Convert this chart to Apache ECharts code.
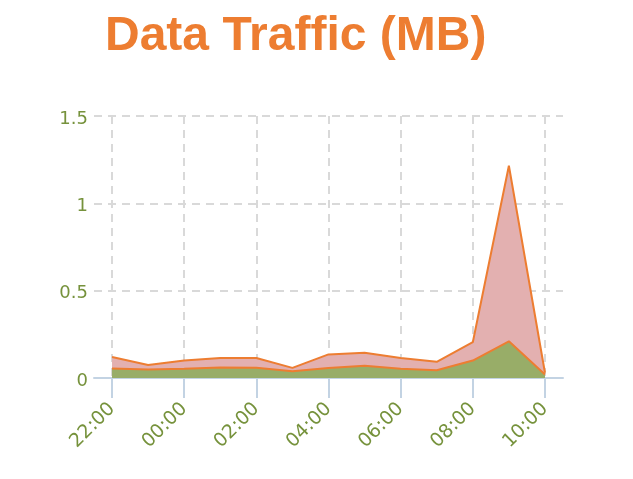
<!DOCTYPE html>
<html>
<head>
<meta charset="utf-8">
<script src="https://cdn.jsdelivr.net/npm/echarts@6/dist/echarts.min.js"></script>
<style>html,body{margin:0;padding:0;background:#fff}#c{width:633px;height:479px}</style>
</head>
<body>
<div id="c"></div>
<script>
const categories = ['22:00','23:00','00:00','01:00','02:00','03:00','04:00','05:00','06:00','07:00','08:00','09:00','10:00'];
const totalTraffic = [0.12, 0.075, 0.10, 0.115, 0.115, 0.058, 0.135, 0.145, 0.115, 0.093, 0.205, 1.215, 0.03];
const greenTraffic = [0.055, 0.048, 0.053, 0.06, 0.058, 0.038, 0.057, 0.07, 0.053, 0.044, 0.10, 0.21, 0.02];
const yTicks = [0, 0.5, 1, 1.5];

const chart = echarts.init(document.getElementById('c'), null, {renderer: 'canvas'});
const labelColor = '#76923c';
chart.setOption({
  animation: false,
  title: {
    text: 'Data Traffic (MB)',
    left: 100, top: 8,
    textStyle: {color: '#ed7d31', fontSize: 48, fontWeight: 'bold', fontFamily: 'Liberation Sans'}
  },
  grid: {left: 94, right: 70, top: 116, bottom: 101},
  xAxis: {
    type: 'category',
    data: categories,
    boundaryGap: true,
    axisLine: {lineStyle: {color: '#c3d3e3', width: 2}},
    axisTick: {show: true, interval: 1, alignWithLabel: true, length: 20, lineStyle: {color: '#c3d3e3', width: 2}},
    axisLabel: {interval: 1, rotate: 45, margin: 28, color: labelColor, fontSize: 19, fontFamily: 'DejaVu Sans'},
    splitLine: {show: true, interval: 1, alignWithLabel: true, lineStyle: {color: '#d9d9d9', width: 2, type: [8, 6]}}
  },
  yAxis: {
    type: 'value',
    min: yTicks[0], max: yTicks[yTicks.length - 1], interval: 0.5,
    axisLine: {show: false},
    axisTick: {show: false},
    axisLabel: {color: labelColor, fontSize: 18, margin: 6, verticalAlign: 'top', lineHeight: 6, fontFamily: 'DejaVu Sans'},
    splitLine: {lineStyle: {color: '#d9d9d9', width: 2, type: [8, 6]}}
  },
  series: [
    {
      type: 'line', data: totalTraffic, symbol: 'none', z: 2,
      lineStyle: {color: '#ed7d31', width: 2},
      areaStyle: {color: '#e3b0b0', opacity: 1}
    },
    {
      type: 'line', data: greenTraffic, symbol: 'none', z: 3,
      lineStyle: {color: '#ed7d31', width: 2},
      areaStyle: {color: '#98ad68', opacity: 1}
    }
  ]
});
</script>
</body>
</html>
